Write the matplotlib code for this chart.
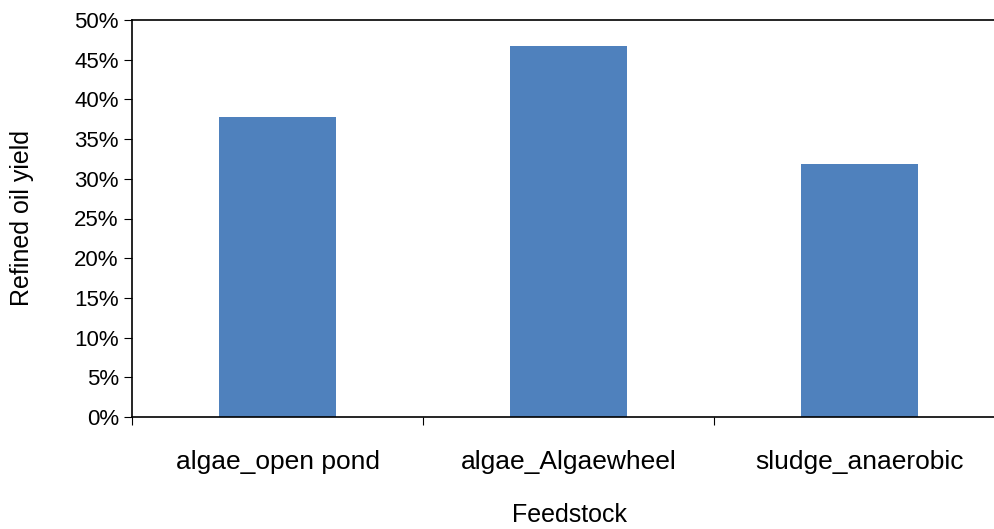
import matplotlib.pyplot as plt
from matplotlib.ticker import PercentFormatter

plt.rcParams['font.family'] = ['Liberation Sans', 'DejaVu Sans']

categories = ['algae_open pond', 'algae_Algaewheel', 'sludge_anaerobic']
oil_yield = [37.8, 46.7, 31.9]

fig = plt.figure(figsize=(9.95, 5.29), dpi=100)
ax = fig.add_axes([132/995, 112/529, 876/995, 397/529])
ax.bar(range(3), oil_yield, width=0.4, color='#4f81bd')
ax.set_xlim(-0.5, 2.51)
ax.set_ylim(0, 50)
ax.set_yticks(range(0, 51, 5))
ax.yaxis.set_major_formatter(PercentFormatter(decimals=0))
ax.set_xticks([-0.5, 0.5, 1.5, 2.5])
ax.set_xticklabels([])
ax.set_xticks(range(3), minor=True)
ax.set_xticklabels(categories, minor=True)
ax.tick_params(axis='x', which='minor', length=0, pad=24, labelsize=19)
ax.tick_params(axis='x', which='major', direction='out', length=6)
ax.tick_params(axis='y', direction='out', length=6, labelsize=16)
ax.spines['right'].set_visible(False)
for s in ax.spines.values():
    s.set_linewidth(1.2)
ax.set_ylabel('Refined oil yield', fontsize=18)
ax.yaxis.set_label_coords(-(132 - 34) / 876, 0.5)
fig.text(570/995, 1 - 515/529, 'Feedstock', fontsize=18, ha='center', va='center')
fig.savefig('out.png', dpi=100)
